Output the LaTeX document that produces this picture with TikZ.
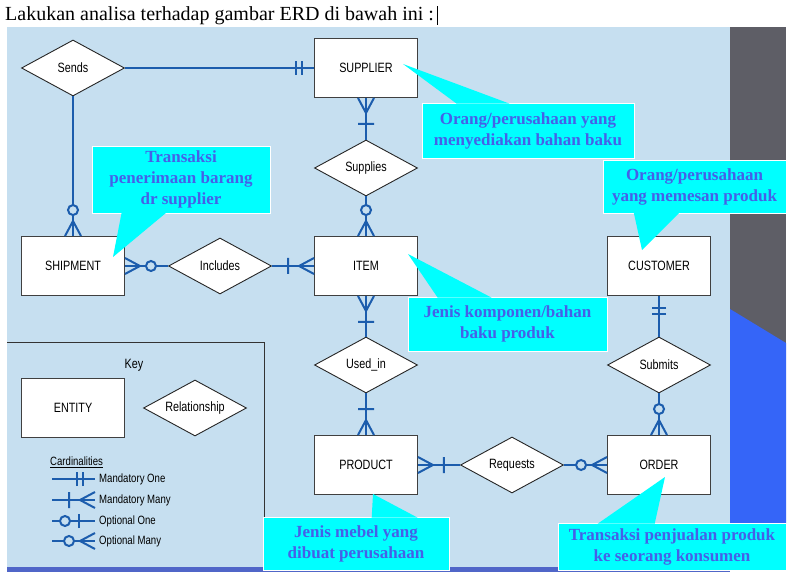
\documentclass[tikz,border=0pt]{standalone}
\usepackage{fontspec}
\setmainfont{Liberation Serif}
\newfontfamily\erdfont[FakeStretch=0.8]{Liberation Sans}
\usetikzlibrary{calc,shapes.geometric}
\definecolor{panelblue}{HTML}{C6DFF0}
\definecolor{bandgray}{HTML}{5E5E66}
\definecolor{bandblue}{HTML}{3565F8}
\definecolor{erdblue}{HTML}{1C5DAD}
\definecolor{notecyan}{HTML}{00FFFF}
\definecolor{notetext}{HTML}{4560E8}
\definecolor{stripblue}{HTML}{5066C8}

\tikzset{
  entity/.style={draw=black!75, fill=white, line width=0.9pt, minimum width=103pt,
    minimum height=59pt, inner sep=0pt, font=\erdfont\fontsize{13.5}{15}\selectfont},
  relation/.style={diamond, draw=black!85, fill=white, line width=0.9pt, aspect=1.8,
    minimum width=103pt, minimum height=56pt, inner sep=0pt,
    font=\erdfont\fontsize{13.5}{15}\selectfont},
  rel/.style={erdblue, line width=2pt},
  note/.style={fill=notecyan, draw=white, line width=0.6pt, align=center, inner sep=0pt,
    text=notetext, font=\bfseries\fontsize{17}{21}\selectfont},
  pics/mandone/.style={code={\draw[rel] (12,-7) -- (12,7) (18,-7) -- (18,7);}},
  pics/mandmany/.style={code={\draw[rel] (0,-8) -- (15,0) -- (0,8) (26,-8) -- (26,8);}},
  pics/optone/.style={code={\draw[rel] (16,-7) -- (16,7);
    \draw[rel, fill=panelblue] (30,0) circle (5pt);}},
  pics/optmany/.style={code={\draw[rel] (0,-8) -- (15,0) -- (0,8);
    \draw[rel, fill=panelblue] (26,0) circle (5pt);}},
}

\begin{document}
\begin{tikzpicture}[x=1pt, y=-1pt]

  % Page & backdrop
  \useasboundingbox (0,0) rectangle (801,577);
  \fill[white] (0,0) rectangle (801,577);
  \fill[panelblue] (7,27) rectangle (730,568);
  \fill[bandgray] (730,27) rectangle (786,523);
  \fill[bandblue] (730,309) -- (786,343) -- (786,523) -- (730,523) -- cycle;
  \fill[stripblue] (7,567) rectangle (730,572);

  % Title line
  \node[anchor=base west, inner sep=0pt, font=\fontsize{20}{24}\selectfont] (title) at (5,21)
    {Lakukan analisa terhadap gambar ERD di bawah ini :};
  \draw[line width=0.7pt] ($(title.base east)+(3,4)$) -- ($(title.base east)+(3,-15)$);

  % ==================== KEY ====================
  \draw[black!80, line width=0.9pt] (7,342) -| (264,568);
  \node[font=\erdfont\fontsize{13.5}{15}\selectfont] (keylbl) at (134,365) {Key};
  \node[entity] (keyent) at (73,408) {ENTITY};
  \node[relation] (keyrel) at (195,408) {Relationship};
  \node[anchor=west, inner sep=0pt, font=\erdfont\fontsize{12}{14}\selectfont] (cardlbl) at (50,462)
    {\underline{Cardinalities}};
  \foreach \y/\kind/\txt in {479/mandone/Mandatory One, 500/mandmany/Mandatory Many,
      521/optone/Optional One, 541/optmany/Optional Many} {
    \coordinate (k-\kind-a) at (52,\y);
    \coordinate (k-\kind-b) at (95,\y);
    \draw[rel] (k-\kind-a) -- (k-\kind-b);
    \pic[rotate=180] at (k-\kind-b) {\kind};
    \node[anchor=west, inner sep=0pt, font=\erdfont\fontsize{12}{14}\selectfont] at (99,\y) {\txt};
  }

  % ==================== ENTITIES & RELATIONSHIPS ====================
  \node[entity] (supplier) at (366,68) {SUPPLIER};
  \node[entity] (shipment) at (73,266) {SHIPMENT};
  \node[entity] (item) at (366,266) {ITEM};
  \node[entity] (customer) at (659,266) {CUSTOMER};
  \node[entity] (product) at (366,465) {PRODUCT};
  \node[entity] (order) at (659,465) {ORDER};

  \node[relation] (sends) at (73,68) {Sends};
  \node[relation] (supplies) at (366,168) {Supplies};
  \node[relation] (includes) at (220,266) {Includes};
  \node[relation] (usedin) at (366,365) {Used\_in};
  \node[relation] (submits) at (659,365) {Submits};
  \node[relation] (requests) at (512,465) {Requests};

  % Connectors
  \draw[rel] (sends.east) -- (supplier.west);
  \draw[rel] (sends.south) -- (shipment.north);
  \draw[rel] (supplier.south) -- (supplies.north);
  \draw[rel] (supplies.south) -- (item.north);
  \draw[rel] (shipment.east) -- (includes.west);
  \draw[rel] (includes.east) -- (item.west);
  \draw[rel] (item.south) -- (usedin.north);
  \draw[rel] (usedin.south) -- (product.north);
  \draw[rel] (product.east) -- (requests.west);
  \draw[rel] (requests.east) -- (order.west);
  \draw[rel] (customer.south) -- (submits.north);
  \draw[rel] (submits.south) -- (order.north);

  % Cardinality marks
  \pic[rotate=180] at (supplier.west) {mandone};
  \pic[rotate=90] at (shipment.north) {optmany};
  \pic[rotate=-90] at (supplier.south) {mandmany};
  \pic[rotate=90] at (item.north) {optmany};
  \pic at (shipment.east) {optmany};
  \pic[rotate=180] at (item.west) {mandmany};
  \pic[rotate=-90] at (item.south) {mandmany};
  \pic[rotate=90] at (product.north) {mandmany};
  \pic at (product.east) {mandmany};
  \pic[rotate=180] at (order.west) {optmany};
  \pic[rotate=-90] at (customer.south) {mandone};
  \pic[rotate=90] at (order.north) {optmany};

  % ==================== CALLOUTS ====================
  \node[note, minimum width=178pt, minimum height=67pt] (n1) at (181,179.5)
    {Transaksi\\penerimaan barang\\dr supplier};
  \fill[notecyan] ($(n1.south west)+(30,-1)$) -- (113,257) -- ($(n1.south west)+(75,-1)$) -- cycle;

  \node[note, minimum width=212pt, minimum height=55pt] (n2) at (528,130.5)
    {Orang/perusahaan yang\\menyediakan bahan baku};
  \fill[notecyan] ($(n2.north west)+(35,1)$) -- (403,64) -- ($(n2.north west)+(88,1)$) -- cycle;

  \node[note, minimum width=183pt, minimum height=53pt] (n3) at (694.5,186.5)
    {Orang/perusahaan\\yang memesan produk};
  \fill[notecyan] ($(n3.south west)+(31,-1)$) -- (642,250) -- ($(n3.south west)+(77,-1)$) -- cycle;

  \node[note, minimum width=199pt, minimum height=54pt] (n4) at (507.5,324)
    {Jenis komponen/bahan\\baku produk};
  \fill[notecyan] ($(n4.north west)+(30,1)$) -- (408,254) -- ($(n4.north west)+(84,1)$) -- cycle;

  \node[note, minimum width=186pt, minimum height=53pt] (n5) at (356,543.5)
    {Jenis mebel yang\\dibuat perusahaan};
  \fill[notecyan] ($(n5.north west)+(109,1)$) -- (373,494) -- ($(n5.north west)+(155,1)$) -- cycle;

  \node[note, minimum width=228pt, minimum height=47pt] (n6) at (672,546.5)
    {Transaksi penjualan produk\\ke seorang konsumen};
  \fill[notecyan] ($(n6.north west)+(40,1)$) -- (665,477) -- ($(n6.north west)+(97,1)$) -- cycle;

\end{tikzpicture}
\end{document}
